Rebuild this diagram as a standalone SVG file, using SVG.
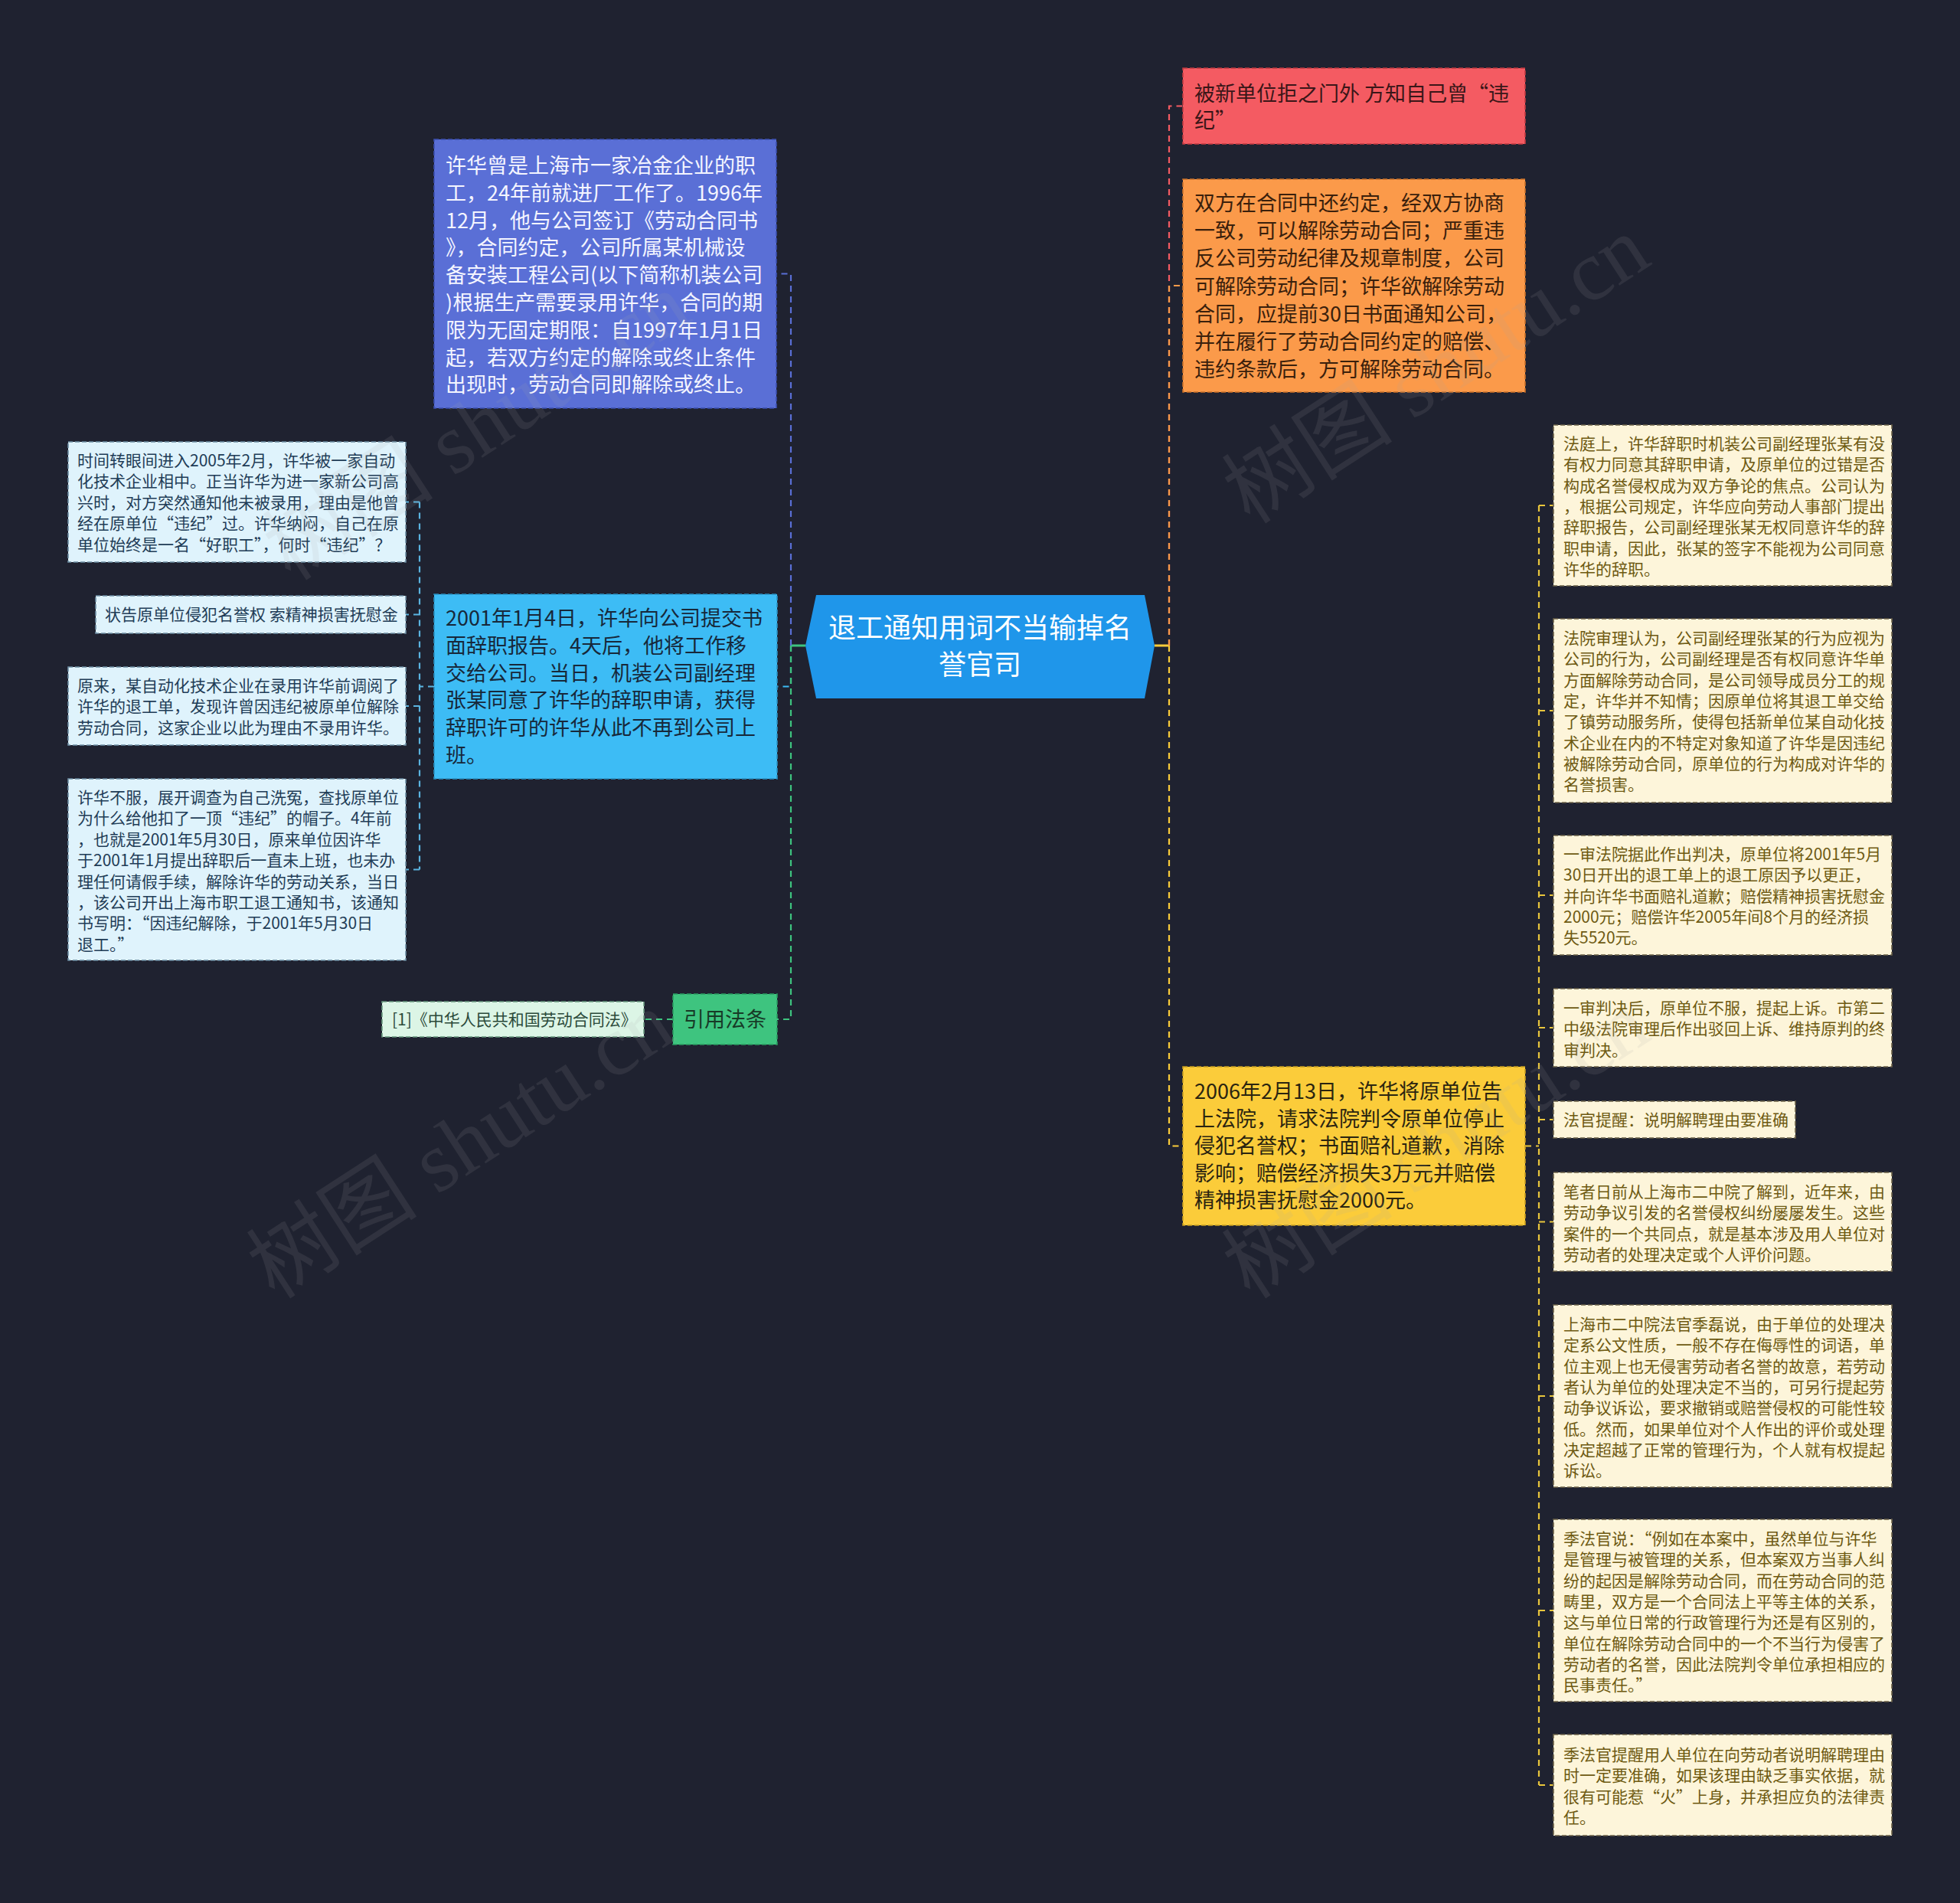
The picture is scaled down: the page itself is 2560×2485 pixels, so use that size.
<svg xmlns="http://www.w3.org/2000/svg" width="2560" height="2485" viewBox="0 0 2560 2485">
<defs>
<style>
text{font-family:"Noto Sans CJK SC","Noto Sans",sans-serif}
.c{fill:none;stroke-width:2.2;stroke-dasharray:8 6}
.s{fill:none;stroke-width:3}
.nb{stroke-width:1.6;stroke-dasharray:6 3}
.t27{font-size:27px}
.t21{font-size:21px}
.wm{font-family:"Liberation Serif","Noto Sans CJK SC",serif;font-size:112px;fill:#a8a8a8;opacity:0.12}
</style>
</defs>
<rect x="0" y="0" width="2560" height="2485" fill="#1f2230"/>

<g id="connectors">
<path class="s" stroke="#3ec47f" d="M1033 843 H1052"/>
<path class="c" stroke="#5a6fd6" d="M1033 843 V357.5 H1014"/>
<path class="c" stroke="#3dbcf5" d="M1033 843 V896.5 H1015"/>
<path class="c" stroke="#3ec47f" d="M1033 843 V1331 H1015"/>
<path class="c" stroke="#5ab4e0" d="M567 896.5 H548 M548 655.5 V1135.5 M548 655.5 H530 M548 802.5 H530 M548 922 H530 M548 1135.5 H530"/>
<path class="c" stroke="#3ec47f" d="M879 1331 H841"/>
<path class="s" stroke="#fbcc3a" d="M1508 843 H1527"/>
<path class="c" stroke="#f45b62" d="M1527 843 V138.5 H1545"/>
<path class="c" stroke="#fb9a4a" d="M1527 843 V373 H1545"/>
<path class="c" stroke="#fbcc3a" d="M1527 843 V1496.5 H1545"/>
<path class="c" stroke="#e9c63c" d="M1992 1496.5 H2010 M2010 660 V2331 M2010 660 H2029 M2010 928 H2029 M2010 1169 H2029 M2010 1342 H2029 M2010 1462 H2029 M2010 1595.5 H2029 M2010 1823 H2029 M2010 2103 H2029 M2010 2331 H2029"/>
</g>

<g id="center">
<polygon points="1052,843 1066,777 1495,777 1508,843 1495,912 1066,912" fill="#1f96ea"/>
<text x="1280" y="833" font-size="36" fill="#ffffff" text-anchor="middle">退工通知用词不当输掉名</text>
<text x="1280" y="881" font-size="36" fill="#ffffff" text-anchor="middle">誉官司</text>
</g>

<g id="node-contract">
<rect x="567" y="182" width="447" height="351" fill="#5a6fd6" stroke="#3b4fae" class="nb"/>
<text class="t27" fill="#f4f5ff" x="582" y="226">
<tspan x="582">许华曾是上海市一家冶金企业的职</tspan>
<tspan x="582" dy="35.8">工，24年前就进厂工作了。1996年</tspan>
<tspan x="582" dy="35.8">12月，他与公司签订《劳动合同书</tspan>
<tspan x="582" dy="35.8">》，合同约定，公司所属某机械设</tspan>
<tspan x="582" dy="35.8">备安装工程公司(以下简称机装公司</tspan>
<tspan x="582" dy="35.8">)根据生产需要录用许华，合同的期</tspan>
<tspan x="582" dy="35.8">限为无固定期限：自1997年1月1日</tspan>
<tspan x="582" dy="35.8">起，若双方约定的解除或终止条件</tspan>
<tspan x="582" dy="35.8">出现时，劳动合同即解除或终止。</tspan>
</text>
</g>

<g id="node-resign">
<rect x="567" y="776" width="448" height="241" fill="#3dbcf5" stroke="#2a8fc0" class="nb"/>
<text class="t27" fill="#17283a" x="582" y="817">
<tspan x="582">2001年1月4日，许华向公司提交书</tspan>
<tspan x="582" dy="35.8">面辞职报告。4天后，他将工作移</tspan>
<tspan x="582" dy="35.8">交给公司。当日，机装公司副经理</tspan>
<tspan x="582" dy="35.8">张某同意了许华的辞职申请，获得</tspan>
<tspan x="582" dy="35.8">辞职许可的许华从此不再到公司上</tspan>
<tspan x="582" dy="35.8">班。</tspan>
</text>
</g>

<g id="node-time">
<rect x="89" y="577" width="441" height="157" fill="#dff3fc" stroke="#6d8ea3" class="nb"/>
<text class="t21" fill="#1f3d57" x="101" y="609">
<tspan x="101">时间转眼间进入2005年2月，许华被一家自动</tspan>
<tspan x="101" dy="27.4">化技术企业相中。正当许华为进一家新公司高</tspan>
<tspan x="101" dy="27.4">兴时，对方突然通知他未被录用，理由是他曾</tspan>
<tspan x="101" dy="27.4">经在原单位“违纪”过。许华纳闷，自己在原</tspan>
<tspan x="101" dy="27.4">单位始终是一名“好职工”，何时“违纪”？</tspan>
</text>
</g>

<g id="node-sue">
<rect x="125" y="778" width="405" height="49" fill="#dff3fc" stroke="#6d8ea3" class="nb"/>
<text class="t21" fill="#1f3d57" x="137" y="810">状告原单位侵犯名誉权 索精神损害抚慰金</text>
</g>

<g id="node-origin">
<rect x="89" y="871" width="441" height="102" fill="#dff3fc" stroke="#6d8ea3" class="nb"/>
<text class="t21" fill="#1f3d57" x="101" y="903">
<tspan x="101">原来，某自动化技术企业在录用许华前调阅了</tspan>
<tspan x="101" dy="27.4">许华的退工单，发现许曾因违纪被原单位解除</tspan>
<tspan x="101" dy="27.4">劳动合同，这家企业以此为理由不录用许华。</tspan>
</text>
</g>

<g id="node-protest">
<rect x="89" y="1017" width="441" height="237" fill="#dff3fc" stroke="#6d8ea3" class="nb"/>
<text class="t21" fill="#1f3d57" x="101" y="1049">
<tspan x="101">许华不服，展开调查为自己洗冤，查找原单位</tspan>
<tspan x="101" dy="27.4">为什么给他扣了一顶“违纪”的帽子。4年前</tspan>
<tspan x="101" dy="27.4">，也就是2001年5月30日，原来单位因许华</tspan>
<tspan x="101" dy="27.4">于2001年1月提出辞职后一直未上班，也未办</tspan>
<tspan x="101" dy="27.4">理任何请假手续，解除许华的劳动关系，当日</tspan>
<tspan x="101" dy="27.4">，该公司开出上海市职工退工通知书，该通知</tspan>
<tspan x="101" dy="27.4">书写明：“因违纪解除，于2001年5月30日</tspan>
<tspan x="101" dy="27.4">退工。”</tspan>
</text>
</g>

<g id="node-law">
<rect x="879" y="1298" width="136" height="66" fill="#3ec47f" stroke="#2a9a60" class="nb"/>
<text class="t27" fill="#173a27" x="893" y="1341">引用法条</text>
</g>

<g id="node-law-ref">
<rect x="499" y="1308" width="342" height="46" fill="#dcf5e6" stroke="#6a9a80" class="nb"/>
<text class="t21" fill="#2b4a3a" x="512" y="1339">[1]《中华人民共和国劳动合同法》</text>
</g>

<g id="node-rejected">
<rect x="1545" y="89" width="447" height="99" fill="#f45b62" stroke="#c03a40" class="nb"/>
<text class="t27" fill="#3a1618" x="1560" y="132">
<tspan x="1560">被新单位拒之门外 方知自己曾“违</tspan>
<tspan x="1560" dy="35">纪”</tspan>
</text>
</g>

<g id="node-terms">
<rect x="1545" y="234" width="447" height="278" fill="#fb9a4a" stroke="#c87028" class="nb"/>
<text class="t27" fill="#3a200c" x="1560" y="275">
<tspan x="1560">双方在合同中还约定，经双方协商</tspan>
<tspan x="1560" dy="36.2">一致，可以解除劳动合同；严重违</tspan>
<tspan x="1560" dy="36.2">反公司劳动纪律及规章制度，公司</tspan>
<tspan x="1560" dy="36.2">可解除劳动合同；许华欲解除劳动</tspan>
<tspan x="1560" dy="36.2">合同，应提前30日书面通知公司，</tspan>
<tspan x="1560" dy="36.2">并在履行了劳动合同约定的赔偿、</tspan>
<tspan x="1560" dy="36.2">违约条款后，方可解除劳动合同。</tspan>
</text>
</g>

<g id="node-lawsuit">
<rect x="1545" y="1393" width="447" height="207" fill="#fbcc3a" stroke="#c89e20" class="nb"/>
<text class="t27" fill="#2a2410" x="1560" y="1435">
<tspan x="1560">2006年2月13日，许华将原单位告</tspan>
<tspan x="1560" dy="35.5">上法院，请求法院判令原单位停止</tspan>
<tspan x="1560" dy="35.5">侵犯名誉权；书面赔礼道歉，消除</tspan>
<tspan x="1560" dy="35.5">影响；赔偿经济损失3万元并赔偿</tspan>
<tspan x="1560" dy="35.5">精神损害抚慰金2000元。</tspan>
</text>
</g>

<g id="node-court1">
<rect x="2029" y="555" width="442" height="210" fill="#fdf5da" stroke="#6b6248" class="nb"/>
<text class="t21" fill="#6e5a12" x="2042" y="587">
<tspan x="2042">法庭上，许华辞职时机装公司副经理张某有没</tspan>
<tspan x="2042" dy="27.3">有权力同意其辞职申请，及原单位的过错是否</tspan>
<tspan x="2042" dy="27.3">构成名誉侵权成为双方争论的焦点。公司认为</tspan>
<tspan x="2042" dy="27.3">，根据公司规定，许华应向劳动人事部门提出</tspan>
<tspan x="2042" dy="27.3">辞职报告，公司副经理张某无权同意许华的辞</tspan>
<tspan x="2042" dy="27.3">职申请，因此，张某的签字不能视为公司同意</tspan>
<tspan x="2042" dy="27.3">许华的辞职。</tspan>
</text>
</g>

<g id="node-court2">
<rect x="2029" y="808" width="442" height="240" fill="#fdf5da" stroke="#6b6248" class="nb"/>
<text class="t21" fill="#6e5a12" x="2042" y="841">
<tspan x="2042">法院审理认为，公司副经理张某的行为应视为</tspan>
<tspan x="2042" dy="27.3">公司的行为，公司副经理是否有权同意许华单</tspan>
<tspan x="2042" dy="27.3">方面解除劳动合同，是公司领导成员分工的规</tspan>
<tspan x="2042" dy="27.3">定，许华并不知情；因原单位将其退工单交给</tspan>
<tspan x="2042" dy="27.3">了镇劳动服务所，使得包括新单位某自动化技</tspan>
<tspan x="2042" dy="27.3">术企业在内的不特定对象知道了许华是因违纪</tspan>
<tspan x="2042" dy="27.3">被解除劳动合同，原单位的行为构成对许华的</tspan>
<tspan x="2042" dy="27.3">名誉损害。</tspan>
</text>
</g>

<g id="node-court3">
<rect x="2029" y="1091" width="442" height="156" fill="#fdf5da" stroke="#6b6248" class="nb"/>
<text class="t21" fill="#6e5a12" x="2042" y="1123">
<tspan x="2042">一审法院据此作出判决，原单位将2001年5月</tspan>
<tspan x="2042" dy="27.3">30日开出的退工单上的退工原因予以更正，</tspan>
<tspan x="2042" dy="27.3">并向许华书面赔礼道歉；赔偿精神损害抚慰金</tspan>
<tspan x="2042" dy="27.3">2000元；赔偿许华2005年间8个月的经济损</tspan>
<tspan x="2042" dy="27.3">失5520元。</tspan>
</text>
</g>

<g id="node-court4">
<rect x="2029" y="1291" width="442" height="102" fill="#fdf5da" stroke="#6b6248" class="nb"/>
<text class="t21" fill="#6e5a12" x="2042" y="1324">
<tspan x="2042">一审判决后，原单位不服，提起上诉。市第二</tspan>
<tspan x="2042" dy="27.3">中级法院审理后作出驳回上诉、维持原判的终</tspan>
<tspan x="2042" dy="27.3">审判决。</tspan>
</text>
</g>

<g id="node-tip">
<rect x="2029" y="1438" width="316" height="48" fill="#fdf5da" stroke="#6b6248" class="nb"/>
<text class="t21" fill="#6e5a12" x="2042" y="1470">法官提醒：说明解聘理由要准确</text>
</g>

<g id="node-author">
<rect x="2029" y="1531" width="442" height="129" fill="#fdf5da" stroke="#6b6248" class="nb"/>
<text class="t21" fill="#6e5a12" x="2042" y="1564">
<tspan x="2042">笔者日前从上海市二中院了解到，近年来，由</tspan>
<tspan x="2042" dy="27.3">劳动争议引发的名誉侵权纠纷屡屡发生。这些</tspan>
<tspan x="2042" dy="27.3">案件的一个共同点，就是基本涉及用人单位对</tspan>
<tspan x="2042" dy="27.3">劳动者的处理决定或个人评价问题。</tspan>
</text>
</g>

<g id="node-judge1">
<rect x="2029" y="1704" width="442" height="238" fill="#fdf5da" stroke="#6b6248" class="nb"/>
<text class="t21" fill="#6e5a12" x="2042" y="1737">
<tspan x="2042">上海市二中院法官季磊说，由于单位的处理决</tspan>
<tspan x="2042" dy="27.3">定系公文性质，一般不存在侮辱性的词语，单</tspan>
<tspan x="2042" dy="27.3">位主观上也无侵害劳动者名誉的故意，若劳动</tspan>
<tspan x="2042" dy="27.3">者认为单位的处理决定不当的，可另行提起劳</tspan>
<tspan x="2042" dy="27.3">动争议诉讼，要求撤销或赔誉侵权的可能性较</tspan>
<tspan x="2042" dy="27.3">低。然而，如果单位对个人作出的评价或处理</tspan>
<tspan x="2042" dy="27.3">决定超越了正常的管理行为，个人就有权提起</tspan>
<tspan x="2042" dy="27.3">诉讼。</tspan>
</text>
</g>

<g id="node-judge2">
<rect x="2029" y="1984" width="442" height="238" fill="#fdf5da" stroke="#6b6248" class="nb"/>
<text class="t21" fill="#6e5a12" x="2042" y="2017">
<tspan x="2042">季法官说：“例如在本案中，虽然单位与许华</tspan>
<tspan x="2042" dy="27.3">是管理与被管理的关系，但本案双方当事人纠</tspan>
<tspan x="2042" dy="27.3">纷的起因是解除劳动合同，而在劳动合同的范</tspan>
<tspan x="2042" dy="27.3">畴里，双方是一个合同法上平等主体的关系，</tspan>
<tspan x="2042" dy="27.3">这与单位日常的行政管理行为还是有区别的，</tspan>
<tspan x="2042" dy="27.3">单位在解除劳动合同中的一个不当行为侵害了</tspan>
<tspan x="2042" dy="27.3">劳动者的名誉，因此法院判令单位承担相应的</tspan>
<tspan x="2042" dy="27.3">民事责任。”</tspan>
</text>
</g>

<g id="node-judge3">
<rect x="2029" y="2265" width="442" height="132" fill="#fdf5da" stroke="#6b6248" class="nb"/>
<text class="t21" fill="#6e5a12" x="2042" y="2299">
<tspan x="2042">季法官提醒用人单位在向劳动者说明解聘理由</tspan>
<tspan x="2042" dy="27.3">时一定要准确，如果该理由缺乏事实依据，就</tspan>
<tspan x="2042" dy="27.3">很有可能惹“火”上身，并承担应负的法律责</tspan>
<tspan x="2042" dy="27.3">任。</tspan>
</text>
</g>

<g id="watermarks">
<text class="wm" transform="translate(380,760) rotate(-33)">树图 shutu.cn</text>
<text class="wm" transform="translate(1633,686) rotate(-33)">树图 shutu.cn</text>
<text class="wm" transform="translate(359,1698) rotate(-33)">树图 shutu.cn</text>
<text class="wm" transform="translate(1633,1698) rotate(-33)">树图 shutu.cn</text>
</g>
</svg>
